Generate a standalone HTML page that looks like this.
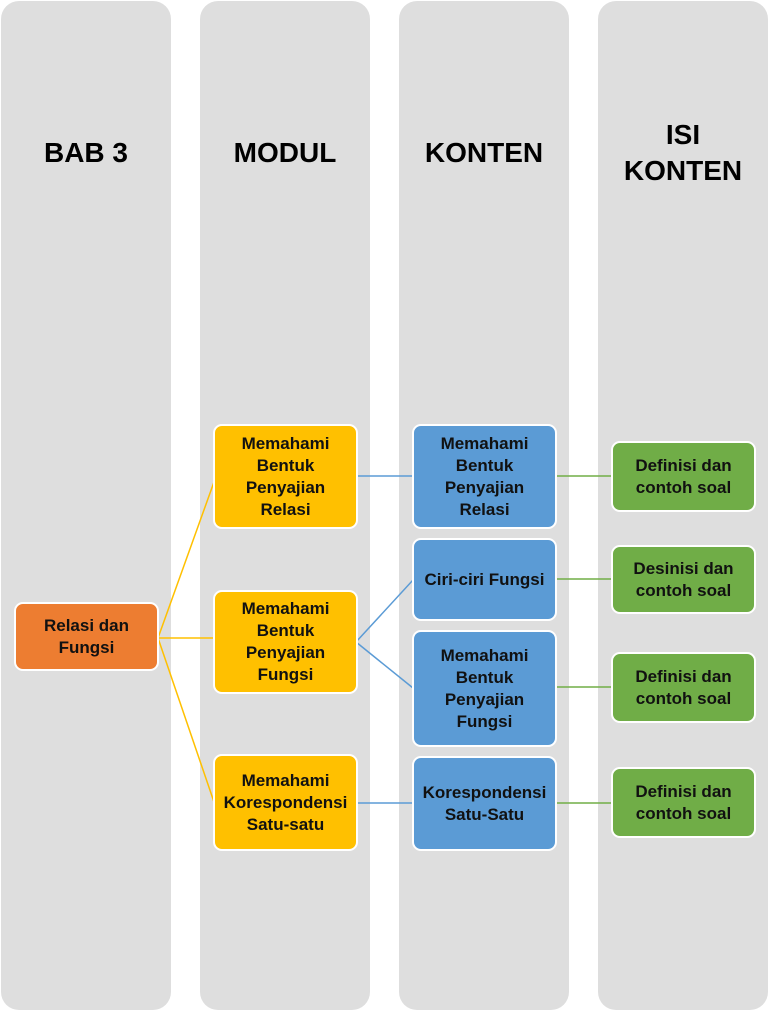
<!DOCTYPE html>
<html><head><style>
body{margin:0;width:769px;height:1018px;background:#fff;position:relative;overflow:hidden;font-family:"Liberation Sans",sans-serif}
.col{position:absolute;top:1px;width:170px;height:1009px;background:#dedede;border-radius:18px}
.h{position:absolute;width:170px;text-align:center;font-weight:bold;font-size:28px;line-height:36px;color:#000}
.b{position:absolute;width:140px;border:2px solid #fff;border-radius:9px;display:flex;align-items:center;justify-content:center;text-align:center;font-weight:bold;font-size:17px;line-height:22px;color:#111;box-sizing:border-box}
.o{background:#ed7d31}.y{background:#ffc000}.bl{background:#5b9bd5}.g{background:#70ad47}
svg{position:absolute;left:0;top:0}
</style></head><body>
<div class="col" style="left:1px"></div>
<div class="col" style="left:200px"></div>
<div class="col" style="left:399px"></div>
<div class="col" style="left:598px"></div>
<div class="h" style="left:1px;top:135px">BAB 3</div>
<div class="h" style="left:200px;top:135px">MODUL</div>
<div class="h" style="left:399px;top:135px">KONTEN</div>
<div class="h" style="left:598px;top:117px">ISI<br>KONTEN</div>
<svg width="769" height="1018">
<g stroke="#ffc000" stroke-width="1.5" fill="none">
<line x1="158" y1="638" x2="214" y2="482"/>
<line x1="158" y1="638" x2="214" y2="638"/>
<line x1="158" y1="638" x2="214" y2="802"/>
</g>
<g stroke="#5b9bd5" stroke-width="1.5" fill="none">
<line x1="356" y1="476" x2="413" y2="476"/>
<line x1="356" y1="642" x2="413" y2="580"/>
<line x1="356" y1="642" x2="413" y2="688"/>
<line x1="356" y1="803" x2="413" y2="803"/>
</g>
<g stroke="#70ad47" stroke-width="1.5" fill="none">
<line x1="555" y1="476" x2="612" y2="476"/>
<line x1="555" y1="579" x2="612" y2="579"/>
<line x1="555" y1="687" x2="612" y2="687"/>
<line x1="555" y1="803" x2="612" y2="803"/>
</g>
</svg>
<div class="b o" style="left:14px;top:602px;width:145px;height:69px">Relasi dan<br>Fungsi</div>
<div class="b y" style="left:213px;top:424px;width:145px;height:105px">Memahami<br>Bentuk<br>Penyajian<br>Relasi</div>
<div class="b y" style="left:213px;top:590px;width:145px;height:104px">Memahami<br>Bentuk<br>Penyajian<br>Fungsi</div>
<div class="b y" style="left:213px;top:754px;width:145px;height:97px">Memahami<br>Korespondensi<br>Satu-satu</div>
<div class="b bl" style="left:412px;top:424px;width:145px;height:105px">Memahami<br>Bentuk<br>Penyajian<br>Relasi</div>
<div class="b bl" style="left:412px;top:538px;width:145px;height:83px">Ciri-ciri Fungsi</div>
<div class="b bl" style="left:412px;top:630px;width:145px;height:117px">Memahami<br>Bentuk<br>Penyajian<br>Fungsi</div>
<div class="b bl" style="left:412px;top:756px;width:145px;height:95px">Korespondensi<br>Satu-Satu</div>
<div class="b g" style="left:611px;top:441px;width:145px;height:71px">Definisi dan<br>contoh soal</div>
<div class="b g" style="left:611px;top:545px;width:145px;height:69px">Desinisi dan<br>contoh soal</div>
<div class="b g" style="left:611px;top:652px;width:145px;height:71px">Definisi dan<br>contoh soal</div>
<div class="b g" style="left:611px;top:767px;width:145px;height:71px">Definisi dan<br>contoh soal</div>
</body></html>
